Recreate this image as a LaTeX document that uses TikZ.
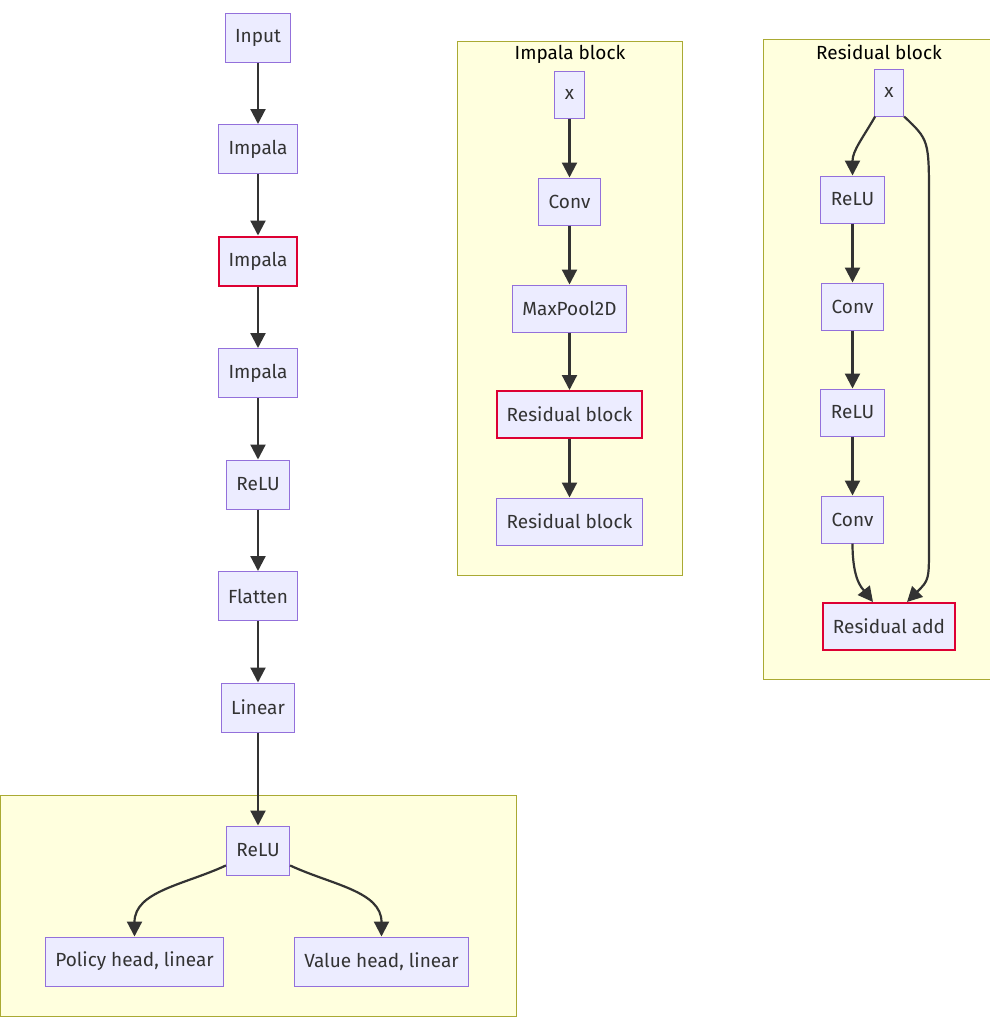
\documentclass[tikz,border=0pt]{standalone}
\usepackage{fontspec}
\setmainfont{Fira Sans}
\usetikzlibrary{positioning,arrows.meta}
\definecolor{mmfill}{HTML}{ECECFF}
\definecolor{mmline}{HTML}{9370DB}
\definecolor{mmred}{HTML}{DD0033}
\definecolor{mmcluster}{HTML}{FFFFDE}
\definecolor{mmclline}{HTML}{AAAA33}
\definecolor{mmtext}{HTML}{333333}
\tikzset{
  box/.style = {draw=mmline, fill=mmfill, line width=1pt, minimum height=49pt,
    inner xsep=10pt, text=mmtext, font=\fontsize{19}{22}\selectfont},
  sbox/.style = {box, minimum height=47pt},
  hl/.style = {draw=mmred, line width=2pt},
  cluster/.style = {draw=mmclline, fill=mmcluster, line width=1pt},
  title/.style = {text=black, font=\fontsize{19}{22}\selectfont},
  arr/.style = {-{Triangle[length=15pt,width=15pt]}, draw=mmtext, line width=2.2pt},
}
\begin{document}
\begin{tikzpicture}[x=1pt, y=-1pt, node distance = {61.5pt}]
\useasboundingbox (0,0) rectangle (990,1018);
% subgraphs
\draw[cluster] (0.5,795) rectangle (516.5,1016.5);
\draw[cluster] (457.5,41.5) rectangle (682.5,575.5);
\draw[cluster] (763.5,39.5) rectangle (1000,679.5);
\node[title] (tImp) at (570,54) {Impala block};
\node[title] (tRes) at (879,52) {Residual block};

% main network
\node[box] (in) at (258,37.5) {Input};
\node[box] (imp1) [below=of in] {Impala};
\node[box, hl] (imp2) [below=of imp1] {Impala};
\node[box] (imp3) [below=of imp2] {Impala};
\node[box] (relu) [below=of imp3] {ReLU};
\node[box] (flat) [below=of relu] {Flatten};
\node[box] (lin) [below=of flat] {Linear};
\node[box] (relu2) [below=93pt of lin] {ReLU};
\node[box] (pol) at (134.5,961.5) {Policy head, linear};
\node[box] (val) at (381.5,961.5) {Value head, linear};

\draw[arr] (in) -- (imp1);
\draw[arr] (imp1) -- (imp2);
\draw[arr] (imp2) -- (imp3);
\draw[arr] (imp3) -- (relu);
\draw[arr] (relu) -- (flat);
\draw[arr] (flat) -- (lin);
\draw[arr] (lin) -- (relu2);
\draw[arr] (relu2) to[out=-155, in=90] (pol);
\draw[arr] (relu2) to[out=-25, in=90] (val);

% impala block
\node[sbox] (ix) at (569.5,94.5) {x};
\node[sbox] (iconv) at (569.5,201.5) {Conv};
\node[sbox] (ipool) at (569.5,308.5) {MaxPool2D};
\node[sbox, hl] (ires1) at (569.5,414.5) {Residual block};
\node[sbox] (ires2) at (569.5,521.5) {Residual block};

\draw[arr] (ix) -- (iconv);
\draw[arr] (iconv) -- (ipool);
\draw[arr] (ipool) -- (ires1);
\draw[arr] (ires1) -- (ires2);

% residual block
\node[sbox] (rx) at (889,92.5) {x};
\node[sbox] (rrelu1) at (852.5,199.5) {ReLU};
\node[sbox] (rconv1) at (852.5,306.5) {Conv};
\node[sbox] (rrelu2) at (852.5,412.5) {ReLU};
\node[sbox] (rconv2) at (852.5,519.5) {Conv};
\node[sbox, hl] (radd) at (889,626.5) {Residual add};

\draw[arr] (rx) to[out=-120, in=90] (rrelu1);
\draw[arr] (rrelu1) -- (rconv1);
\draw[arr] (rconv1) -- (rrelu2);
\draw[arr] (rrelu2) -- (rconv2);
\draw[arr] (rconv2.south) .. controls (852.5,580) and (862,588) .. ([xshift=-16pt]radd.north);
\draw[arr] (rx.south east) .. controls (929,140) .. (929,200) -- (929,545)
  .. controls (929,580) .. ([xshift=18pt]radd.north);
\end{tikzpicture}
\end{document}
